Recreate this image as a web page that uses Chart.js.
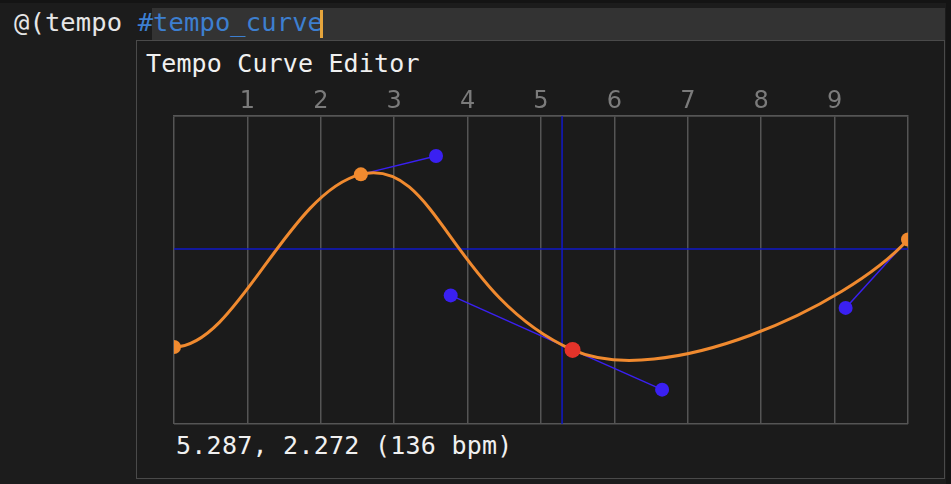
<!DOCTYPE html>
<html>
<head>
<meta charset="utf-8">
<script src="https://cdn.jsdelivr.net/npm/chart.js@4"></script>
<style>
  html, body { margin: 0; padding: 0; }
  body { width: 951px; height: 484px; background: #141414; position: relative; overflow: hidden;
         font-family: 'DejaVu Sans Mono', monospace; }
  #editor { position: absolute; left: 0; top: 3px; width: 946px; height: 481px; background: #1c1c1c; }
  #lineband { position: absolute; left: 152px; top: 8px; width: 793px; height: 32px; background: #333333; }
  #code { position: absolute; left: 14px; top: 6px; font-size: 25.5px; line-height: 32px; color: #e6e6e6;
          white-space: pre; letter-spacing: 0.1px; }
  #code .tag { color: #3d7fd0; }
  #caret { position: absolute; left: 320px; top: 10px; width: 3px; height: 28px; background: #e6a53c; }
  #popup { position: absolute; left: 136px; top: 40px; width: 807px; height: 437px; background: #1b1b1b;
           border: 1.5px solid #4a4a4a; }
  #title { position: absolute; left: 146px; top: 48px; font-size: 25px; line-height: 32px; color: #f0f0f0;
           white-space: pre; letter-spacing: 0.15px; }
  #readout { position: absolute; left: 176px; top: 430px; font-size: 25px; line-height: 32px; color: #f0f0f0;
             white-space: pre; letter-spacing: 0.25px; }
  #wrap { position: absolute; left: 0; top: 0; width: 951px; height: 484px; }
</style>
</head>
<body>
<div id="editor"></div>
<div id="lineband"></div>
<div id="code">@(tempo <span class="tag">#tempo_curve</span></div>
<div id="caret"></div>
<div id="popup"></div>
<div id="title">Tempo Curve Editor</div>
<div id="readout"></div>
<div id="wrap"><canvas id="chart" width="951" height="484"></canvas></div>

<script>
// beat labels along the top
const beatLabels = ['1', '2', '3', '4', '5', '6', '7', '8', '9'];

// curve knots
const knotX = [0, 2.546, 5.43, 10];
const knotY = [1.0, 3.242, 0.962, 2.397];
const selectedKnot = 2;

// bezier handles, one per segment (out = leaves start knot, in = arrives at end knot)
const outX = [0.85, 3.57, 6.65];
const outY = [1.0, 3.48, 0.446];
const inX = [1.55, 3.77, 9.15];
const inY = [3.01, 1.67, 1.508];
const outShown = [false, true, true];
const inShown = [false, true, true];

// crosshair / readout
const cursorX = 5.287;
const cursorY = 2.272;
const cursorBpm = 136;

const ORANGE = '#f08a2f';
const RED = '#e5332a';
const HANDLE_BLUE = '#3a20f2';
const CROSS_BLUE = '#1018c8';
const GRID = '#555555';

document.getElementById('readout').textContent =
  cursorX.toFixed(3) + ', ' + cursorY.toFixed(3) + ' (' + cursorBpm + ' bpm)';

const datasets = [];

// knots on top
datasets.push({
  label: 'knots',
  data: knotX.map((x, i) => ({ x: x, y: knotY[i] })),
  showLine: false,
  pointRadius: knotX.map((x, i) => i === selectedKnot ? 8 : 7),
  pointBackgroundColor: knotX.map((x, i) => i === selectedKnot ? RED : ORANGE),
  pointBorderWidth: 0,
  clip: 0,
  order: 0
});

// handle lines + handle dots
for (let s = 0; s < outX.length; s++) {
  if (outShown[s]) {
    datasets.push({
      data: [{ x: knotX[s], y: knotY[s] }, { x: outX[s], y: outY[s] }],
      showLine: true, borderColor: HANDLE_BLUE, borderWidth: 1.5,
      pointRadius: [0, 7], pointBackgroundColor: HANDLE_BLUE, pointBorderWidth: 0,
      clip: 0, order: 1
    });
  }
  if (inShown[s]) {
    datasets.push({
      data: [{ x: knotX[s + 1], y: knotY[s + 1] }, { x: inX[s], y: inY[s] }],
      showLine: true, borderColor: HANDLE_BLUE, borderWidth: 1.5,
      pointRadius: [0, 7], pointBackgroundColor: HANDLE_BLUE, pointBorderWidth: 0,
      clip: 0, order: 1
    });
  }
}

// crosshair
datasets.push({
  data: [{ x: cursorX, y: 0 }, { x: cursorX, y: 4 }],
  showLine: true, borderColor: CROSS_BLUE, borderWidth: 1.5, pointRadius: 0, clip: 0, order: 3
});
datasets.push({
  data: [{ x: 0, y: cursorY }, { x: 10, y: cursorY }],
  showLine: true, borderColor: CROSS_BLUE, borderWidth: 1.5, pointRadius: 0, clip: 0, order: 3
});

// draws the bezier curve just before the knots, using the chart scales
const curvePlugin = {
  id: 'tempoCurve',
  beforeDatasetDraw(chart, args) {
    if (args.index !== 0) return;
    const xs = chart.scales.x, ys = chart.scales.y;
    const ctx = chart.ctx;
    const a = chart.chartArea;
    ctx.save();
    ctx.beginPath();
    ctx.rect(a.left, a.top, a.right - a.left, a.bottom - a.top);
    ctx.clip();
    ctx.beginPath();
    ctx.moveTo(xs.getPixelForValue(knotX[0]), ys.getPixelForValue(knotY[0]));
    for (let s = 0; s < outX.length; s++) {
      ctx.bezierCurveTo(
        xs.getPixelForValue(outX[s]), ys.getPixelForValue(outY[s]),
        xs.getPixelForValue(inX[s]), ys.getPixelForValue(inY[s]),
        xs.getPixelForValue(knotX[s + 1]), ys.getPixelForValue(knotY[s + 1])
      );
    }
    ctx.strokeStyle = ORANGE;
    ctx.lineWidth = 3;
    ctx.lineCap = 'round';
    ctx.stroke();
    ctx.restore();
  }
};

new Chart(document.getElementById('chart'), {
  type: 'scatter',
  data: { datasets: datasets },
  options: {
    responsive: false,
    animation: false,
    events: [],
    layout: { padding: { left: 174, right: 43, top: 0, bottom: 60 } },
    plugins: { legend: { display: false }, tooltip: { enabled: false } },
    scales: {
      x: {
        type: 'linear',
        position: 'top',
        min: 0,
        max: 10,
        afterFit(scale) { scale.height = 116; },
        ticks: {
          stepSize: 1,
          padding: 0,
          color: '#7b7b7b',
          font: { family: 'DejaVu Sans', size: 24 },
          callback: (v) => (v >= 1 && v <= beatLabels.length) ? beatLabels[v - 1] : ''
        },
        grid: { color: GRID, lineWidth: 1.5, drawTicks: false },
        border: { color: GRID, width: 1.5 }
      },
      y: {
        min: 0,
        max: 4,
        afterFit(scale) { scale.width = 0; },
        ticks: { stepSize: 4, display: false },
        grid: { color: GRID, lineWidth: 1.5, drawTicks: false },
        border: { display: false }
      }
    }
  },
  plugins: [curvePlugin]
});
</script>
</body>
</html>
